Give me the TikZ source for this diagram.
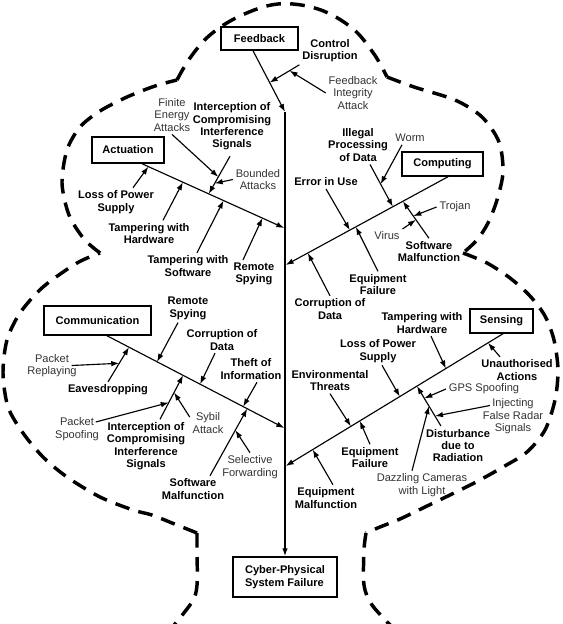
\documentclass[tikz,border=0pt]{standalone}
\usepackage{fontspec}
\setmainfont{Liberation Sans}
\usetikzlibrary{arrows.meta,calc}
\newdimen\pxu \pxu=0.75pt
\begin{document}
\begin{tikzpicture}[x=0.75pt,y=-0.75pt,
  lab/.style={font=\fontsize{8.3}{9.3}\selectfont\bfseries, align=center, inner sep=2pt, text=black},
  sub/.style={font=\fontsize{8.3}{9.3}\selectfont, align=center, inner sep=2pt, text=black!80},
  cat/.style={draw, line width=1.1pt, font=\fontsize{8.3}{9.3}\selectfont\bfseries, inner sep=2pt},
  arr/.style={line width=0.85pt, -{Latex[length=6pt,width=4.2pt]}},
  bone/.style={line width=0.85pt, -{Latex[length=6pt,width=4.2pt]}},
  tree/.style={line width=2.6pt, dash pattern=on 11pt off 7pt},
]
\useasboundingbox (0,0) rectangle (563,624);

% tree outline
\draw[tree] plot[smooth, tension=0.6] coordinates {(177,80) (190,58) (210,35) (240,16) (278,4) (318,9) (352,28) (374,54) (387,77)};
\draw[tree] plot[smooth] coordinates {(100,253) (84,239) (69,215) (62,183) (67,150) (80,127) (100,111) (127,97) (155,86) (177,80)};
\draw[tree] plot[smooth] coordinates {(387,77) (414,87) (455,100) (482,117) (499,142) (503,172) (497,200) (488,223) (477,240) (463,253)};
\draw[tree] plot[smooth] coordinates {(463,253) (487,263) (510,278) (530,296) (545,316) (554,340) (558,370) (555,400) (545,430) (527,452) (503,467) (478,481) (452,494) (425,507) (400,519) (380,527) (366,533)};
\draw[tree] plot[smooth] coordinates {(366,533) (364,550) (364,585) (372,605) (395,630)};
\draw[tree] plot[smooth] coordinates {(197,533) (197,550) (197,585) (192,602) (170,630)};
\draw[tree] plot[smooth] coordinates {(197,533) (172,523) (152,515) (133,510) (100,497) (67,477) (43,457) (23,433) (8,407) (3,373) (7,340) (20,313) (43,287) (77,263) (100,253)};

% category boxes
\node[cat, minimum width=77\pxu, minimum height=23\pxu] (fb) at (259.5,38.5) {Feedback};
\node[cat, minimum width=72\pxu, minimum height=26\pxu] (act) at (128,150) {Actuation};
\node[cat, minimum width=81\pxu, minimum height=24\pxu] (comp) at (442.5,164) {Computing};
\node[cat, minimum width=107\pxu, minimum height=29\pxu] (comm) at (97.5,320.5) {Communication};
\node[cat, minimum width=63\pxu, minimum height=24\pxu] (sens) at (501.5,321) {Sensing};
\node[cat, align=left, minimum width=104\pxu, minimum height=40\pxu] (cps) at (285,577) {Cyber-Physical\\System Failure};

% labels
\node[lab] (cd) at (330,50.5) {Control\\Disruption};
\node[sub] (fia) at (353,93) {Feedback\\Integrity\\Attack};
\node[sub] (fea) at (172,115) {Finite\\Energy\\Attacks};
\node[lab] (icisA) at (232,126.5) {Interception of\\Compromising\\Interference\\Signals};
\node[sub] (ba) at (258,179.5) {Bounded\\Attacks};
\node[lab] (lpsA) at (116,202) {Loss of Power\\Supply};
\node[lab] (twhA) at (149,233.5) {Tampering with\\Hardware};
\node[lab] (twsA) at (188,266) {Tampering with\\Software};
\node[lab] (rsA) at (254,274) {Remote\\Spying};
\node[lab] (ipd) at (358,145) {Illegal\\Processing\\of Data};
\node[sub] (worm) at (410,138) {Worm};
\node[lab] (eiu) at (326,182) {Error in Use};
\node[sub] (trojan) at (455,207) {Trojan};
\node[sub] (virus) at (387,236) {Virus};
\node[lab] (smC) at (429,251.5) {Software\\Malfunction};
\node[lab] (efC) at (378,284.5) {Equipment\\Failure};
\node[lab] (cod) at (330,309) {Corruption of\\Data};
\node[lab] (rsC) at (188,308.5) {Remote\\Spying};
\node[lab] (codC) at (222,340) {Corruption of\\Data};
\node[lab] (toi) at (251,369) {Theft of\\Information};
\node[sub] (pr) at (52,365.5) {Packet\\Replaying};
\node[lab] (eav) at (108,390) {Eavesdropping};
\node[sub] (ps) at (77,429) {Packet\\Spoofing};
\node[lab] (icisC) at (146,446) {Interception of\\Compromising\\Interference\\Signals};
\node[sub] (sybil) at (208,423) {Sybil\\Attack};
\node[lab] (smM) at (193,489) {Software\\Malfunction};
\node[sub] (sf) at (250,467) {Selective\\Forwarding};
\node[lab] (twhS) at (422,323) {Tampering with\\Hardware};
\node[lab] (ua) at (517,370) {Unauthorised\\Actions};
\node[lab] (lpsS) at (378,351) {Loss of Power\\Supply};
\node[lab] (et) at (330,380.5) {Environmental\\Threats};
\node[lab] (efS) at (370,457.5) {Equipment\\Failure};
\node[lab] (em) at (326,498) {Equipment\\Malfunction};
\node[sub] (gps) at (484,389) {GPS Spoofing};
\node[sub] (ifrs) at (513,416.5) {Injecting\\False Radar\\Signals};
\node[lab] (ddr) at (458,445.5) {Disturbance\\due to\\Radiation};
\node[sub] (dcl) at (422,485) {Dazzling Cameras\\with Light};

% spine junctions
\coordinate (jF) at (285,112);
\coordinate (jA) at (284.3,228);
\coordinate (jC) at (285.7,265);
\coordinate (jM) at (284.3,428);
\coordinate (jS) at (285.7,466);

\coordinate (fbS) at ([xshift=-6.5\pxu]fb.south);
\coordinate (actS) at ([xshift=14\pxu]act.south);
\coordinate (compS) at ([xshift=5.5\pxu]comp.south);
\coordinate (commS) at ([xshift=9.5\pxu]comm.south);
\coordinate (sensS) at ([xshift=1.5\pxu]sens.south);

% spine and bones
\draw[line width=1.05pt, -{Latex[length=6pt,width=4.2pt]}] (jF) -- (cps.north);
\draw[bone] (fbS) -- (jF);
\draw[bone] (actS) -- (jA);
\draw[bone] (compS) -- (jC);
\draw[bone] (commS) -- (jM);
\draw[bone] (sensS) -- (jS);

% tips - feedback
\coordinate (tFcd) at ($(fbS)!0.52!(jF)$);
\coordinate (cdS) at (cd.south west);
\coordinate (tCDfia) at ($(cdS)!0.33!(tFcd)$);
% actuation
\coordinate (tAlps) at ($(actS)!0.045!(jA)$);
\coordinate (tAtwh) at ($(actS)!0.287!(jA)$);
\coordinate (tAicis) at ($(actS)!0.469!(jA)$);
\coordinate (tAtws) at ($(actS)!0.573!(jA)$);
\coordinate (tArs) at ($(actS)!0.846!(jA)$);
\coordinate (icisAS) at ([xshift=-2\pxu,yshift=-3\pxu]icisA.south);
\coordinate (tIfea) at ($(icisAS)!0.55!(tAicis)$);
\coordinate (tIba) at ($(icisAS)!0.72!(tAicis)$);
% computing
\coordinate (tCipd) at ($(compS)!0.34!(jC)$);
\coordinate (tCsm) at ($(compS)!0.278!(jC)$);
\coordinate (tCeiu) at ($(compS)!0.605!(jC)$);
\coordinate (tCef) at ($(compS)!0.568!(jC)$);
\coordinate (tCcod) at ($(compS)!0.864!(jC)$);
\coordinate (ipdS) at ([xshift=12\pxu]ipd.south);
\coordinate (tIworm) at ($(ipdS)!0.465!(tCipd)$);
\coordinate (smCS) at (smC.north);
\coordinate (tSMtro) at ($(smCS)!0.6!(tCsm)$);
\coordinate (tSMvir) at ($(smCS)!0.5!(tCsm)$);
% communication
\coordinate (tMrs) at ($(commS)!0.282!(jM)$);
\coordinate (tMcod) at ($(commS)!0.525!(jM)$);
\coordinate (tMtoi) at ($(commS)!0.768!(jM)$);
\coordinate (tMeav) at ($(commS)!0.124!(jM)$);
\coordinate (tMicis) at ($(commS)!0.429!(jM)$);
\coordinate (tMsm) at ($(commS)!0.791!(jM)$);
\coordinate (eavS) at (eav.north);
\coordinate (tEpr) at ($(eavS)!0.536!(tMeav)$);
\coordinate (icisCS) at ([xshift=14\pxu]icisC.north);
\coordinate (tIps) at ($(icisCS)!0.38!(tMicis)$);
\coordinate (tIsyb) at ($(icisCS)!0.61!(tMicis)$);
\coordinate (smMS) at ([xshift=17\pxu]smM.north);
\coordinate (tSMsf) at ($(smMS)!0.68!(tMsm)$);
% sensing
\coordinate (tStwh) at ($(sensS)!0.263!(jS)$);
\coordinate (tSua) at ($(sensS)!0.069!(jS)$);
\coordinate (tSlps) at ($(sensS)!0.475!(jS)$);
\coordinate (tSet) at ($(sensS)!0.70!(jS)$);
\coordinate (tSef) at ($(sensS)!0.659!(jS)$);
\coordinate (tSem) at ($(sensS)!0.876!(jS)$);
\coordinate (tSddr) at ($(sensS)!0.396!(jS)$);
\coordinate (ddrS) at ([xshift=-17\pxu]ddr.north);
\coordinate (tDgps) at ($(ddrS)!0.695!(tSddr)$);
\coordinate (tDifrs) at ($(ddrS)!0.25!(tSddr)$);
\coordinate (tDdcl) at ($(ddrS)!0.5!(tSddr)$);

% arrows
\draw[arr] (cdS) -- (tFcd);
\draw[arr] (fia.west) -- (tCDfia);
\draw[arr] (fea.south) -- (tIfea);
\draw[arr] (icisAS) -- (tAicis);
\draw[arr] (ba.west) -- (tIba);
\draw[arr] ([xshift=17\pxu]lpsA.north) -- (tAlps);
\draw[arr] ([xshift=14\pxu]twhA.north) -- (tAtwh);
\draw[arr] ([xshift=9\pxu]twsA.north) -- (tAtws);
\draw[arr] ([xshift=-11\pxu]rsA.north) -- (tArs);
\draw[arr] (ipdS) -- (tCipd);
\draw[arr] ([xshift=-8\pxu]worm.south) -- (tIworm);
\draw[arr] (trojan.west) -- (tSMtro);
\draw[arr] (smCS) -- (tCsm);
\draw[arr] (virus.north east) -- (tSMvir);
\draw[arr] (eiu.south) -- (tCeiu);
\draw[arr] (efC.north) -- (tCef);
\draw[arr] (cod.north) -- (tCcod);
\draw[arr] ([xshift=-10\pxu]rsC.south) -- (tMrs);
\draw[arr] ([xshift=-7\pxu]codC.south) -- (tMcod);
\draw[arr] ([xshift=6\pxu]toi.south) -- (tMtoi);
\draw[arr] (eavS) -- (tMeav);
\draw[arr] ([xshift=-8\pxu]pr.east) -- (tEpr);
\draw[arr] ([xshift=-6\pxu,yshift=7\pxu]ps.east) -- (tIps);
\draw[arr] (icisCS) -- (tMicis);
\draw[arr] ([yshift=6\pxu]sybil.west) -- (tIsyb);
\draw[arr] (smMS) -- (tMsm);
\draw[arr] (sf.north) -- (tSMsf);
\draw[arr] ([xshift=9\pxu]twhS.south) -- (tStwh);
\draw[arr] ([xshift=-17\pxu]ua.north) -- (tSua);
\draw[arr] ([xshift=4\pxu]lpsS.south) -- (tSlps);
\draw[arr] (et.south) -- (tSet);
\draw[arr] (efS.north) -- (tSef);
\draw[arr] ([xshift=7\pxu]em.north) -- (tSem);
\draw[arr] (ddrS) -- (tSddr);
\draw[arr] (gps.west) -- (tDgps);
\draw[arr] ([xshift=10\pxu,yshift=11\pxu]ifrs.west) -- (tDifrs);
\draw[arr] ([xshift=-10\pxu]dcl.north) -- (tDdcl);
\end{tikzpicture}
\end{document}
